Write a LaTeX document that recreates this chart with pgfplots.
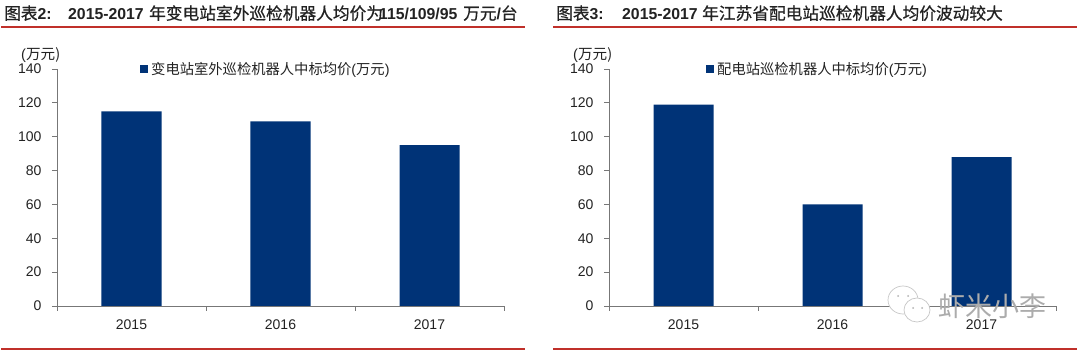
\documentclass[border=0pt]{standalone}
\usepackage{fontspec}
\usepackage{pgfplots}
\pgfplotsset{compat=1.18}
\setmainfont{Liberation Sans}
\newfontfamily\cjk{Noto Sans CJK SC}
\newfontfamily\cjkt{Noto Sans CJK SC}[FakeBold=0.6]
\definecolor{barblue}{HTML}{003377}
\definecolor{rulered}{HTML}{C0302A}
\definecolor{axisgray}{HTML}{777777}
\definecolor{txt}{HTML}{222222}
\newcommand{\tc}[1]{{\cjkt\fontsize{16.7}{18}\selectfont #1}}
\newcommand{\tl}[1]{{\bfseries\fontsize{15.8}{18}\selectfont #1}}
\pgfplotsset{
  panel/.style={
    scale only axis, width=447pt, height=237pt,
    xmin=-0.5, xmax=2.5, ymin=0, ymax=140,
    axis x line*=bottom, axis y line*=left,
    axis line style={axisgray, line width=0.9pt, -},
    ytick={0,20,...,140},
    xtick={-0.5,0.5,1.5,2.5}, xticklabels={},
    extra x ticks={0,1,2}, extra x tick labels={2015,2016,2017},
    extra x tick style={tick style={draw=none}},
    major tick length=5pt,
    tick style={axisgray, line width=0.8pt},
    tick align=outside,
    /pgf/number format/assume math mode=true,
    ticklabel style={font=\fontsize{14}{15}\selectfont, text=txt},
    yticklabel style={xshift=-7pt},
    xticklabel style={yshift=-5pt},
    clip=false,
  },
  bars/.style={ybar, bar width=60pt, fill=barblue, draw=none, bar shift=0pt},
}
\begin{document}
\begin{tikzpicture}[x=1pt,y=1pt]
\path[use as bounding box] (0,0) rectangle (1080,353);
\tikzset{ttl/.style={anchor=base west,inner sep=0pt,text=txt}}
% left panel
\node[ttl] at (4,333.5) {\tc{图表}\tl{2:}};
\node[ttl] at (68,333.5) {\tl{2015-2017}};
\node[ttl] at (149,333.5) {\tc{年变电站室外巡检机器人均价为}};
\node[ttl] at (379,333.5) {\tl{115/109/95}};
\node[ttl] at (463,333.5) {\tc{万元}\tl{/}\tc{台}};
\draw[rulered,line width=1.3pt] (1,326) -- (525,326);
\draw[rulered,line width=1.3pt] (1,4) -- (525,4);
\node[anchor=west,inner sep=0pt,text=txt,font=\fontsize{14.6}{15}\selectfont] at (21,298) {(\cjk 万元)};
\begin{axis}[panel, at={(57pt,47pt)}, anchor=south west]
\addplot[bars] coordinates {(0,115) (1,109) (2,95)};
\end{axis}
\fill[barblue] (140,280) rectangle (148,288);
\node[anchor=west,inner sep=0pt,text=txt,font=\fontsize{14.3}{15}\selectfont] at (151,283.5) {\cjk 变电站室外巡检机器人中标均价{\rmfamily(}万元{\rmfamily)}};
% right panel
\node[ttl] at (556,333.5) {\tc{图表}\tl{3:}};
\node[ttl] at (622,333.5) {\tl{2015-2017}};
\node[ttl] at (702,333.5) {\tc{年江苏省配电站巡检机器人均价波动较大}};
\draw[rulered,line width=1.3pt] (553,326) -- (1077,326);
\draw[rulered,line width=1.3pt] (553,4) -- (1077,4);
\node[anchor=west,inner sep=0pt,text=txt,font=\fontsize{14.6}{15}\selectfont] at (573,298) {(\cjk 万元)};
\begin{axis}[panel, at={(609pt,47pt)}, anchor=south west]
\addplot[bars] coordinates {(0,119) (1,60) (2,88)};
\end{axis}
\fill[barblue] (706,280) rectangle (714,288);
\node[anchor=west,inner sep=0pt,text=txt,font=\fontsize{14.3}{15}\selectfont] at (717,283.5) {\cjk 配电站巡检机器人中标均价{\rmfamily(}万元{\rmfamily)}};
% watermark
\begin{scope}[draw=gray!45, fill=white, line width=0.7pt]
\filldraw (903,53) ellipse (15 and 14);
\filldraw (917,43) ellipse (13 and 12);
\end{scope}
\fill[gray!60] (898,57) circle (1) (908,57) circle (1) (913,45) circle (1) (922,45) circle (1);
\node[anchor=west,inner sep=0pt,text=gray!65,font=\fontsize{27}{29}\selectfont] at (938,47) {\cjk 虾米小李};
\end{tikzpicture}
\end{document}
